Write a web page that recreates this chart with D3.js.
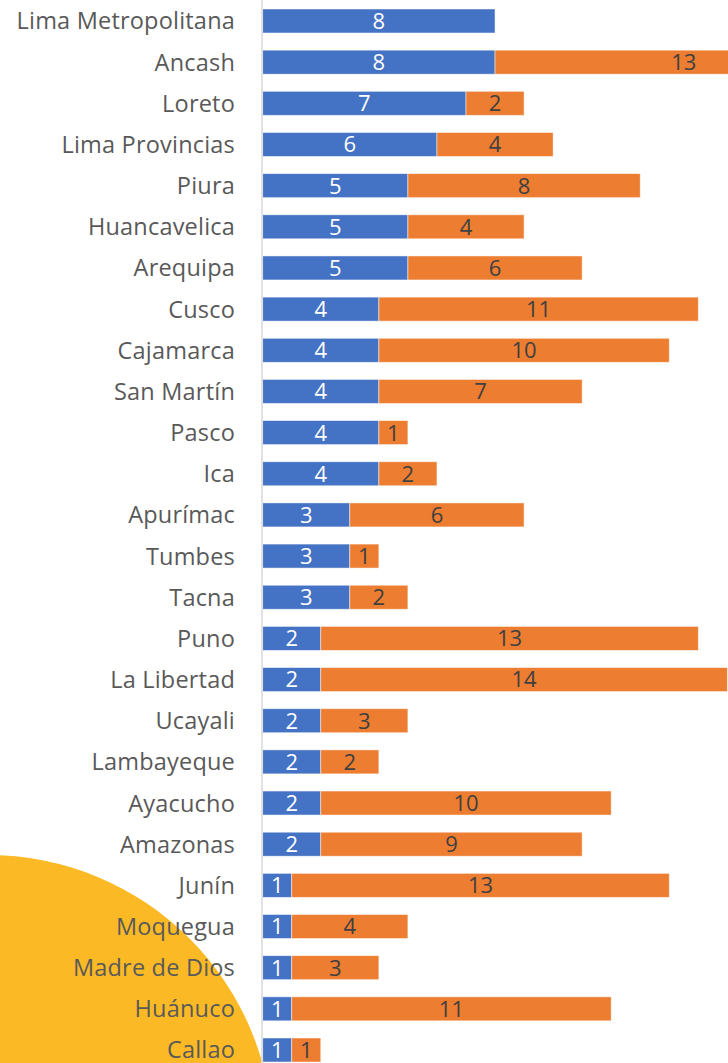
<!DOCTYPE html>
<html>
<head>
<meta charset="utf-8">
<script src="https://cdn.jsdelivr.net/npm/d3@7"></script>
<style>
  html, body { margin: 0; padding: 0; background: #fff; overflow: hidden; }
  svg { display: block; }
</style>
</head>
<body>
<svg id="chart" width="728" height="1063"></svg>
<script>
const categories = ["Lima Metropolitana","Ancash","Loreto","Lima Provincias","Piura","Huancavelica","Arequipa","Cusco","Cajamarca","San Martín","Pasco","Ica","Apurímac","Tumbes","Tacna","Puno","La Libertad","Ucayali","Lambayeque","Ayacucho","Amazonas","Junín","Moquegua","Madre de Dios","Huánuco","Callao"];
const seriesBlue   = [8,8,7,6,5,5,5,4,4,4,4,4,3,3,3,2,2,2,2,2,2,1,1,1,1,1];
const seriesOrange = [0,13,2,4,8,4,6,11,10,7,1,2,6,1,2,13,14,3,2,10,9,13,4,3,11,1];

const W = 728, H = 1063;
const svg = d3.select("#chart");

// decorative circle
svg.append("circle")
  .attr("cx", -12).attr("cy", 1140).attr("r", 285)
  .attr("fill", "#FBBA25");

const step = 41.16;
const y = d3.scaleBand()
  .domain(categories)
  .range([9 - 0.2085 * step, 9 - 0.2085 * step + categories.length * step])
  .paddingInner(0.417)
  .paddingOuter(0.2085);

const x = d3.scaleLinear().domain([0, 16]).range([262.7, 262.7 + 16 * 29.04]);

const rows = categories.map((c, i) => ({ c, b: seriesBlue[i], o: seriesOrange[i] }));

const stacked = d3.stack().keys(["b", "o"])(rows);
const colors = { b: "#4472C4", o: "#ED7D31" };
const textColors = { b: "#FFFFFF", o: "#404040" };

stacked.forEach(layer => {
  const g = svg.append("g");
  g.selectAll("rect").data(layer.filter(d => d[1] - d[0] > 0)).join("rect")
    .attr("x", d => x(d[0]))
    .attr("y", d => y(d.data.c))
    .attr("width", d => x(d[1]) - x(d[0]))
    .attr("height", y.bandwidth())
    .attr("fill", colors[layer.key])
    .attr("stroke", "#ffffff").attr("stroke-opacity", 0.6).attr("stroke-width", 0.8);
  g.selectAll("text").data(layer.filter(d => d[1] - d[0] > 0)).join("text")
    .attr("x", d => (x(d[0]) + x(d[1])) / 2)
    .attr("y", d => y(d.data.c) + y.bandwidth() / 2)
    .attr("dy", "0.36em")
    .attr("text-anchor", "middle")
    .attr("font-family", "'Open Sans', sans-serif")
    .attr("font-size", 22)
    .attr("fill", textColors[layer.key])
    .text(d => d[1] - d[0]);
});

// axis
const axis = svg.append("g").attr("transform", "translate(262,0)")
  .call(d3.axisLeft(y).tickSize(0).tickPadding(27));
axis.select(".domain").attr("stroke", "#D9D9D9").attr("stroke-width", 1.5)
  .attr("d", `M0,0V${H}`);
axis.selectAll("text")
  .attr("font-family", "'Open Sans', sans-serif")
  .attr("font-size", 23.5)
  .attr("letter-spacing", 0.2)
  .attr("fill", "#595959")
  .attr("dy", "0.36em");
</script>
</body>
</html>
